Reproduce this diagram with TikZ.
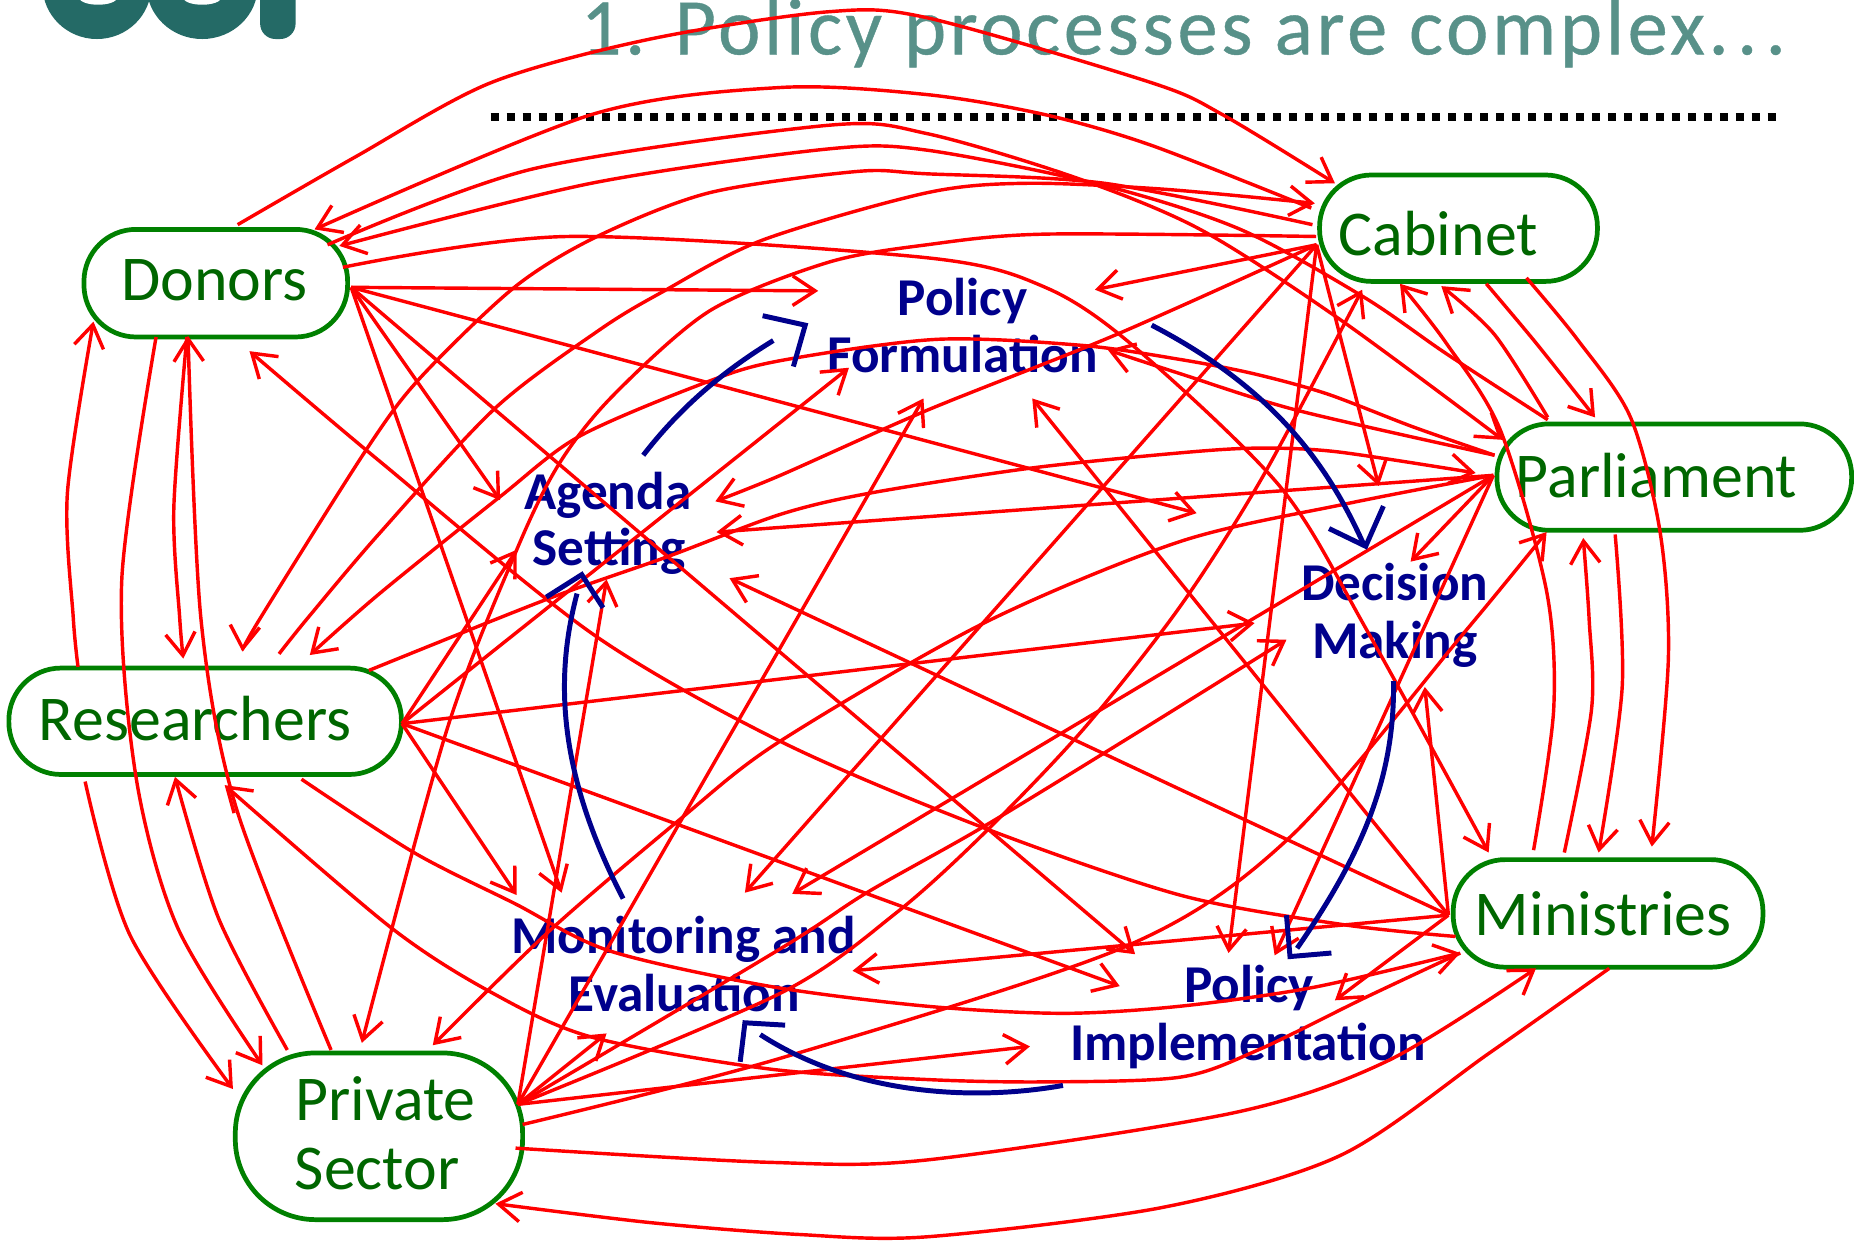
\documentclass[tikz,border=0pt]{standalone}
\usepackage{fontspec}
\setmainfont{Carlito}
\usetikzlibrary{arrows.meta}
\definecolor{rl}{RGB}{255,0,0}
\definecolor{boxgreen}{RGB}{0,128,0}
\definecolor{txtgreen}{RGB}{0,102,0}
\definecolor{stageblue}{RGB}{0,0,140}
\definecolor{titleteal}{RGB}{88,145,137}
\definecolor{logoteal}{RGB}{36,106,102}
\tikzset{
  actor/.style={draw=boxgreen,line width=4pt,rounded corners=44pt,inner sep=0pt,outer sep=0pt},
  actorlab/.style={anchor=base,text=txtgreen,inner sep=0pt,font=\fontsize{54}{60}\selectfont},
  stagelab/.style={anchor=base,text=stageblue,inner sep=0pt,font=\fontsize{45}{50}\selectfont\bfseries},
  link/.style={draw=rl,line width=2.9pt,line cap=butt,-{Straight Barb[length=19pt,width=25pt,line width=2.9pt]}},
  cycleline/.style={draw=stageblue,line width=4.2pt},
  cyclehead/.style={draw=stageblue,line width=4.2pt,line join=miter}
}
\begin{document}
\begin{tikzpicture}[x=1pt,y=-1pt]
\useasboundingbox (0,0) rectangle (1568,1049.6);
% logo fragment
\begin{scope}
\clip (0,0) rectangle (1568,1049.6);
\fill[logoteal] (82,-12) ellipse [x radius=46,y radius=45];
\fill[logoteal] (171,-12) ellipse [x radius=47,y radius=45];
\fill[white] (83,-2) ellipse [x radius=16,y radius=6];
\fill[white] (171,-2) ellipse [x radius=16,y radius=6];
\fill[logoteal,rounded corners=13pt] (220,-30) rectangle (250,33);
\end{scope}
% title and rule
\node[anchor=base west,inner sep=0pt,text=titleteal,font=\fontsize{68}{70}\selectfont] (title) at (491,46) {\addfontfeature{LetterSpace=4.5,FakeBold=0.5}1. Policy processes are complex.\kern7pt.\kern7pt.};
\coordinate (ruleL) at (415,99);
\coordinate (ruleR) at (1502,99);
\draw[black,line width=6.2pt,dash pattern=on 6.75pt off 6.75pt] (ruleL) -- (ruleR);
% actors
\node[actor,minimum width=223pt,minimum height=91pt] (don) at (182.5,239.5) {};
\node[actor,minimum width=235pt,minimum height=90pt] (cab) at (1233.5,193) {};
\node[actor,minimum width=300pt,minimum height=90pt] (par) at (1416,403.5) {};
\node[actor,minimum width=262pt,minimum height=91pt] (min) at (1360,772.5) {};
\node[actor,minimum width=332pt,minimum height=90pt] (res) at (173.5,610) {};
\node[actor,rounded corners=68pt,minimum width=243pt,minimum height=141pt] (pri) at (320.5,961) {};
\node[actorlab] (donL) at (181.5,254.5) {Donors};
\node[actorlab] (cabL) at (1216.5,216.5) {Cabinet};
\node[actorlab] (parL) at (1401,420.5) {Parliament};
\node[actorlab] (minL) at (1356,791.5) {Ministries};
\node[actorlab] (resL) at (165,626) {Researchers};
\node[actorlab] (priL) at (326,947.5) {Private};
\node[actorlab] (priM) at (319,1006) {Sector};
% stages
\node[stagelab] (pf1) at (814,266.5) {Policy};
\node[stagelab] (pf2) at (814,315) {Formulation};
\node[stagelab] (as1) at (514,431) {Agenda};
\node[stagelab] (as2) at (515,478.5) {Setting};
\node[stagelab] (dm1) at (1179.5,507.5) {Decision};
\node[stagelab] (dm2) at (1179.5,556.5) {Making};
\node[stagelab] (me1) at (578,806.5) {Monitoring and};
\node[stagelab] (me2) at (578.5,855.5) {Evaluation};
\node[stagelab] (pi1) at (1056.5,847.5) {Policy};
\node[stagelab] (pi2) at (1055.5,896.5) {Implementation};
% hubs
\coordinate (dH) at (297,243);
\coordinate (rH) at (340,612);
\coordinate (cH) at (1113.5,207);
\coordinate (qH) at (1263,402);
\coordinate (mH) at (1225,774);
\coordinate (pH) at (438,934);
% stage tips
\coordinate (tPFd) at (692,246);
\coordinate (tDMd) at (1012,434);
\coordinate (tASd) at (423,423);
\coordinate (tPId) at (960,807);
\coordinate (tMEd) at (475,755);
\coordinate (tDMr) at (1061,527);
\coordinate (tPIr) at (947,834);
\coordinate (tMEr) at (437,757);
\coordinate (tASr) at (437,465);
\coordinate (tPFr) at (718,311);
\coordinate (tPFc) at (926,245);
\coordinate (tDMc) at (1166,411);
\coordinate (tMEc) at (630,755);
\coordinate (tPIc) at (1039,806);
\coordinate (tASc) at (605,424);
\coordinate (tASq) at (606,450);
\coordinate (tDMq) at (1193,475);
\coordinate (tPIq) at (1078,808);
\coordinate (tMEq) at (670,756);
\coordinate (tPFq) at (937,296);
\coordinate (tASm) at (617,489);
\coordinate (tPFm) at (873,337);
\coordinate (tDMm) at (1205,581);
\coordinate (tMEm) at (721,821);
\coordinate (tPIm) at (1129,846);
\coordinate (tASp) at (513,490);
\coordinate (tPFp) at (781,337);
\coordinate (tMEp) at (513,874);
\coordinate (tPIp) at (871,885);
\coordinate (tDMp) at (1088,541);
% actor to stage links
\foreach \a/\b in {dH/tPFd,dH/tDMd,dH/tASd,dH/tPId,dH/tMEd,
                   rH/tDMr,rH/tPIr,rH/tMEr,rH/tASr,rH/tPFr,
                   cH/tPFc,cH/tDMc,cH/tMEc,cH/tPIc,
                   qH/tASq,qH/tDMq,qH/tPIq,qH/tMEq,
                   mH/tASm,mH/tPFm,mH/tDMm,mH/tMEm,mH/tPIm,
                   pH/tASp,pH/tPFp,pH/tMEp,pH/tPIp}
  \draw[link] (\a) -- (\b);
\draw[link] plot[smooth] coordinates {(pH) (659,803) (733,755) (832,699) (966,617) (tDMp)};
\draw[link] plot[smooth] coordinates {(cH) (944,283) (784,347) (660,402) (tASc)};
\draw[link] plot[smooth] coordinates {(1264,385) (1097,347) (998,316) (tPFq)};
% actor to actor links
\draw[link] plot[smooth] coordinates {(201,190) (300,133) (415,70) (550,33) (700,10) (784,15) (974,70) (1034,97) (1129,155)};
\draw[link] plot[smooth] coordinates {(1109,176) (974,123) (884,97) (784,80) (660,74) (500,97) (266,194)};
\draw[link] plot[smooth] coordinates {(277,207) (450,143) (700,106) (784,113) (909,150) (1015,194) (1133,270) (1271,372)};
\draw[link] plot[smooth] coordinates {(1309,355) (1223,299) (1153,251) (1049,194) (934,157) (784,127) (700,126) (500,155) (287,208)};
\draw[link] plot[smooth] coordinates {(290,226) (480,200) (784,218) (884,243) (959,293) (1083,412) (1156,533) (1259,721)};
\draw[link] plot[smooth] coordinates {(1231,792) (1136,782) (998,757) (829,699) (660,627) (501,536) (321,390) (211,297)};
\draw[link] plot[smooth] coordinates {(158,285) (147,430) (152,523) (155,557)};
\draw[link] plot[smooth] coordinates {(66,564) (62,523) (57,417) (79,272)};
\draw[link] plot[smooth] coordinates {(132,285) (103,490) (115,657) (150,784) (222,901)};
\draw[link] plot[smooth] coordinates {(280,888) (200,684) (170,524) (159,284)};
\draw[link] plot[smooth] coordinates {(72,661) (110,791) (197,921)};
\draw[link] plot[smooth] coordinates {(243,888) (185,777) (148,657)};
\draw[link] plot[smooth] coordinates {(236,553) (260,523) (321,451) (419,345) (507,279) (560,247) (645,203) (784,163) (869,155) (984,160) (1112,172)};
\draw[link] plot[smooth] coordinates {(1110,190) (934,155) (784,147) (725,145) (600,163) (505,200) (435,243) (355,320) (310,380) (220,523) (205,551)};
\draw[link] plot[smooth] coordinates {(312,567) (462,507) (564,471) (660,435) (736,417) (871,396) (998,383) (1063,379) (1130,382) (1248,400)};
\draw[link] plot[smooth] coordinates {(1264,385) (1195,361) (1122,333) (1060,316) (998,304) (914,292) (792,287) (660,305) (598,323) (490,369) (423,420) (321,502) (262,554)};
\draw[link] plot[smooth] coordinates {(255,659) (350,721) (435,764) (515,804) (650,834) (784,851) (899,857) (998,851) (1111,835) (1235,806)};
\draw[link] plot[smooth] coordinates {(1235,806) (1154,844) (1064,888) (998,911) (884,915) (784,913) (650,904) (500,877) (415,839) (330,784) (190,664)};
\draw[link] plot[smooth] coordinates {(pH) (660,840) (758,772) (832,705) (916,617) (998,513) (1068,403) (1152,245)};
\draw[link] plot[smooth] coordinates {(1113,200) (884,198) (784,207) (700,222) (600,263) (518,335) (473,392) (437,465) (378,617) (306,882)};
\draw[link] plot[smooth] coordinates {(442,951) (660,895) (953,800) (1091,708) (1240,533) (1308,450)};
\draw[link] plot[smooth] coordinates {(qH) (1139,426) (998,458) (832,527) (658,628) (575,693) (465,787) (366,884)};
\draw[link] plot[smooth] coordinates {(436,971) (650,983) (784,981) (1044,941) (1174,897) (1299,819)};
\draw[link] plot[smooth] coordinates {(1361,819) (1259,891) (1134,977) (984,1021) (784,1046) (675,1044) (550,1034) (419,1018)};
\draw[link] plot[smooth] coordinates {(1257,240) (1299,290) (1349,353)};
\draw[link] plot[smooth] coordinates {(1309,353) (1264,283) (1219,242)};
\draw[link] plot[smooth] coordinates {(1291,235) (1334,287) (1379,353) (1404,450) (1411,557) (1397,716)};
\draw[link] plot[smooth] coordinates {(1297,719) (1314,600) (1308,500) (1269,364) (1223,290) (1184,240)};
\draw[link] plot[smooth] coordinates {(1366,452) (1372,580) (1352,721)};
\draw[link] plot[smooth] coordinates {(1323,721) (1346,600) (1344,524) (1339,455)};
% policy cycle
\draw[cycleline] (544,385) .. controls (575,345) and (610,315) .. (654,288);
\draw[cyclehead] (645,267) -- (681,275) -- (671,310);
\draw[cycleline] (974,275) .. controls (1070,325) and (1120,385) .. (1154,462);
\draw[cyclehead] (1124,447) -- (1155,462) -- (1170,428);
\draw[cycleline] (1178.5,576) .. controls (1180,660) and (1150,725) .. (1097,802);
\draw[cyclehead] (1088,774) -- (1091,809) -- (1126,806);
\draw[cycleline] (899,918) .. controls (820,932) and (720,925) .. (643,875);
\draw[cyclehead] (626,898) -- (630,865) -- (664,867);
\draw[cycleline] (527,760) .. controls (470,650) and (470,570) .. (488,502);
\draw[cyclehead] (462,505) -- (492,486) -- (510,514);
\end{tikzpicture}
\end{document}
